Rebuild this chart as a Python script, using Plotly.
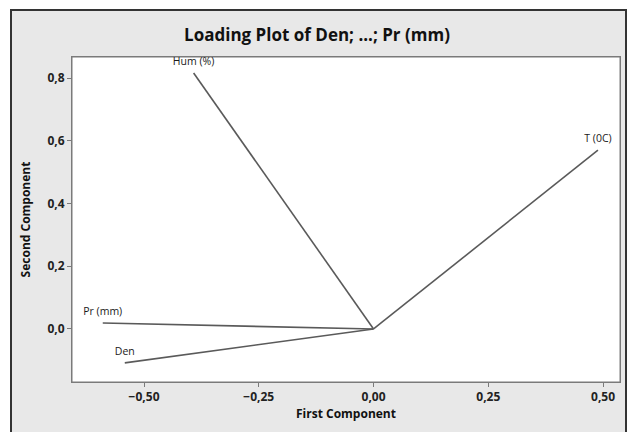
import plotly.graph_objects as go

# Loadings (First Component, Second Component)
variables = ["Hum (%)", "T (0C)", "Pr (mm)", "Den"]
pc1 = [-0.392, 0.489, -0.590, -0.542]
pc2 = [0.816, 0.570, 0.019, -0.108]

x_ticks = [-0.50, -0.25, 0.00, 0.25, 0.50]
y_ticks = [0.0, 0.2, 0.4, 0.6, 0.8]

title = "Loading Plot of Den; ...; Pr (mm)"
x_title = "First Component"
y_title = "Second Component"

FONT = "Open Sans"
W, H = 634, 432
L, R, T, B = 72, 14, 57, 50
pw, ph = W - L - R, H - T - B

def px_to_paper_x(px):
    return (px - L) / pw

def px_to_paper_y(py):
    return (H - B - py) / ph

fig = go.Figure()
for name, x, y in zip(variables, pc1, pc2):
    fig.add_trace(go.Scatter(
        x=[0, x], y=[0, y], mode="lines",
        line=dict(color="#5a5a5a", width=1.6),
        hoverinfo="skip", showlegend=False))

fig.add_trace(go.Scatter(
    x=pc1, y=pc2, mode="markers+text", text=variables,
    textposition="top center",
    marker=dict(size=7, color="rgba(0,0,0,0)"),
    textfont=dict(family=FONT, size=10.5, color="#1a1a1a"),
    cliponaxis=False,
    hoverinfo="skip", showlegend=False))

fig.update_layout(
    width=W, height=H,
    margin=dict(l=L, r=R, t=T, b=B),
    paper_bgcolor="white",
    plot_bgcolor="white",
    separators=",.",
    showlegend=False,
    title=dict(text=title, x=0.5, xref="container", xanchor="center",
               y=1 - 35 / H, yanchor="middle",
               font=dict(family=FONT, size=17, color="#111111", weight="bold")),
    font=dict(family=FONT, color="#222222"),
    shapes=[
        dict(type="rect", xref="paper", yref="paper", layer="below",
             x0=px_to_paper_x(11), x1=px_to_paper_x(626),
             y0=px_to_paper_y(445), y1=px_to_paper_y(10),
             fillcolor="#e8e8e8", line=dict(color="#333333", width=2)),
        dict(type="rect", xref="paper", yref="paper", layer="below",
             x0=0, x1=1, y0=0, y1=1,
             fillcolor="white", line=dict(color="#7a7a7a", width=1)),
    ],
)

fig.update_xaxes(
    range=[-0.657, 0.537], tickvals=x_ticks, tickformat=".2f",
    ticks="outside", ticklen=4, tickcolor="#7a7a7a",
    showgrid=False, zeroline=False, showline=True, linecolor="#7a7a7a",
    mirror=True,
    tickfont=dict(family=FONT, size=12, color="#222222", weight="bold"),
    title=dict(text=x_title, standoff=5,
               font=dict(family=FONT, size=12, color="#111111", weight="bold")),
)
fig.update_yaxes(
    range=[-0.169, 0.867], tickvals=y_ticks, tickformat=".1f",
    ticks="outside", ticklen=4, tickcolor="#7a7a7a",
    showgrid=False, zeroline=False, showline=True, linecolor="#7a7a7a",
    mirror=True,
    tickfont=dict(family=FONT, size=12, color="#222222", weight="bold"),
    title=dict(text=y_title, standoff=14,
               font=dict(family=FONT, size=12, color="#111111", weight="bold")),
)

fig.write_html("out.html")
